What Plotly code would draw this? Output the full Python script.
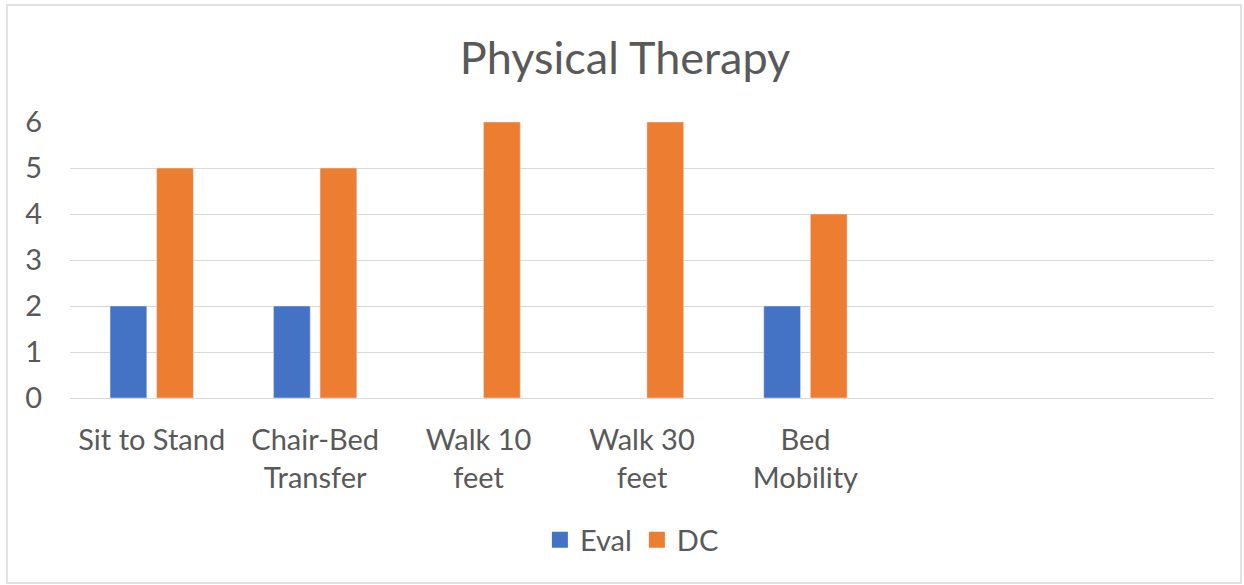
import plotly.graph_objects as go

categories = ["Sit to Stand", "Chair-Bed Transfer", "Walk 10 feet", "Walk 30 feet", "Bed Mobility", "", " "]
line1 = ["Sit to Stand", "Chair-Bed", "Walk 10", "Walk 30", "Bed", "", ""]
line2 = ["", "Transfer", "feet", "feet", "Mobility", "", ""]
series_names = ["Eval", "DC"]
series_colors = ["#4472C4", "#ED7D31"]
eval_vals = [2, 2, None, None, 2, None, None]
dc_vals = [5, 5, 6, 6, 4, None, None]
y_ticks = [0, 1, 2, 3, 4, 5, 6]

FONT = "Lato"
TXT = "#595959"
GRID = "#d9d9d9"
FS = 29
W, H = 1244, 585

fig = go.Figure()
for name, vals, col in zip(series_names, [eval_vals, dc_vals], series_colors):
    fig.add_trace(go.Bar(name=name, x=categories, y=vals, marker_color=col, showlegend=False))
# legend entries with larger square swatches
for name, col in zip(series_names, series_colors):
    fig.add_trace(go.Scatter(name=name, x=[None], y=[None], mode="markers",
                             marker=dict(symbol="square", size=18, color=col), showlegend=True))
# invisible trace to host the second line of category labels
fig.add_trace(go.Scatter(x=categories, y=[None] * len(categories), xaxis="x2", showlegend=False, hoverinfo="skip"))

fig.update_layout(
    width=W, height=H,
    paper_bgcolor="white", plot_bgcolor="white",
    font=dict(family=FONT, color=TXT),
    title=dict(text="Physical Therapy", x=625 / W, xanchor="center", y=1 - 58 / H, yref="container",
               yanchor="middle", font=dict(size=45, family=FONT, color=TXT)),
    margin=dict(l=70, r=30, t=122, b=187),
    barmode="group", bargap=0.43, bargroupgap=0.21,
    xaxis=dict(type="category", categoryorder="array", categoryarray=categories,
               tickvals=categories, ticktext=line1, tickfont=dict(size=FS, color=TXT, family=FONT),
               showgrid=False, showline=True, linecolor=GRID, linewidth=1, ticks="", ticklabelstandoff=16),
    xaxis2=dict(type="category", categoryorder="array", categoryarray=categories, overlaying="x", side="bottom",
                matches="x", tickvals=categories, ticktext=line2, tickfont=dict(size=FS, color=TXT, family=FONT),
                showgrid=False, showline=False, ticks="", ticklabelstandoff=60),
    yaxis=dict(range=[0, 6], tickvals=y_ticks, tickfont=dict(size=FS, color=TXT, family=FONT),
               showgrid=True, gridcolor=GRID, gridwidth=1, zeroline=False, showline=False, ticks="",
               ticklabelstandoff=27),
    legend=dict(orientation="h", x=611 / W, xanchor="center", y=1 - 540 / H, yref="container",
                yanchor="middle", font=dict(size=FS, color=TXT, family=FONT), itemwidth=30, traceorder="normal"),
    shapes=[dict(type="rect", xref="paper", yref="paper", x0=-0.0551, x1=1.0236, y0=-0.670, y1=1.424,
                 line=dict(color=GRID, width=1.5), fillcolor="rgba(0,0,0,0)", layer="below")],
)

fig.write_html("out.html", config={"displayModeBar": False},
               post_script="document.body.style.margin='0';")
